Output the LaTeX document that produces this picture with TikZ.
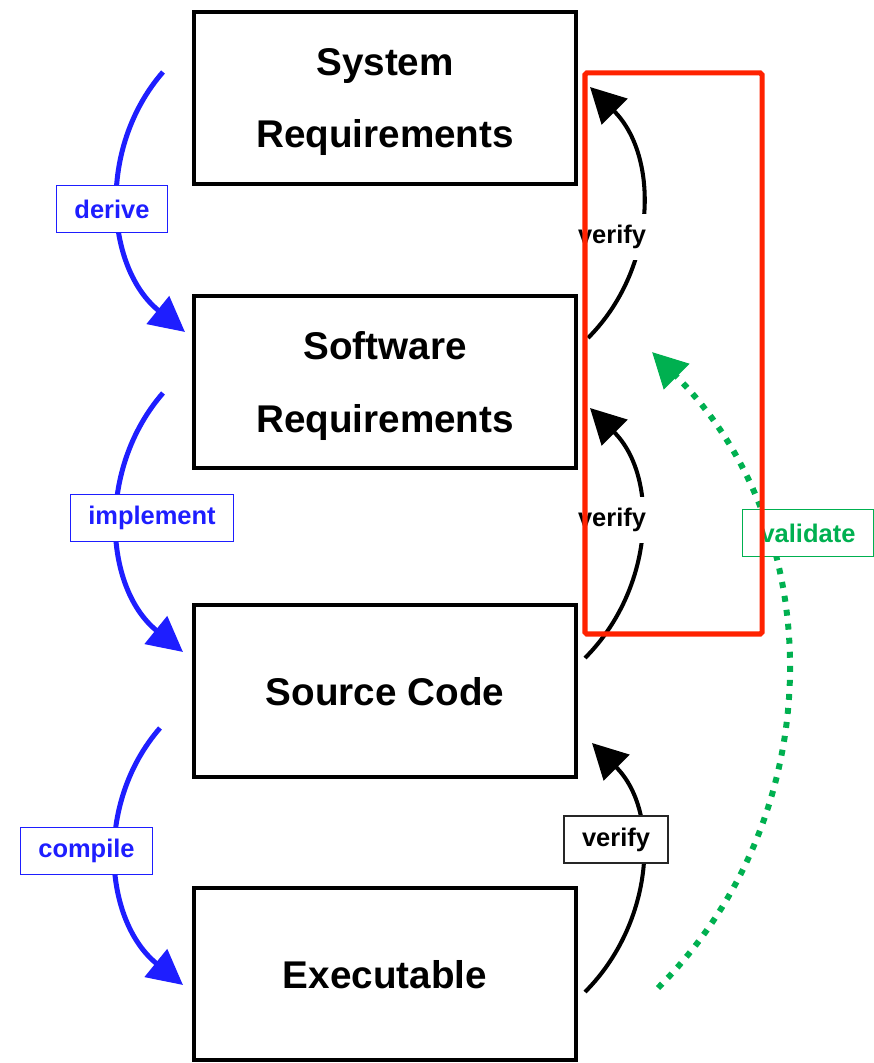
\documentclass[tikz,border=0pt]{standalone}
\usepackage{fontspec}
\setmainfont{Liberation Sans}
\usetikzlibrary{arrows.meta}

\definecolor{flowblue}{RGB}{30,30,255}
\definecolor{valgreen}{RGB}{0,176,80}
\definecolor{markred}{RGB}{255,34,0}

\begin{document}
\begin{tikzpicture}[x=0.02cm,y=0.02cm,
  stage/.style={draw,line width=2.5pt,minimum width=7.64cm,minimum height=3.44cm,
    align=center,text depth=0pt,font=\bfseries\fontsize{22}{41.5}\selectfont},
  tag/.style={fill=white,minimum height=0.94cm,inner xsep=0.36cm,
    font=\bfseries\fontsize{14.5}{17}\selectfont},
  bluetag/.style={tag,draw=flowblue,line width=0.9pt,text=flowblue},
  flow/.style={flowblue,line width=2.85pt,-{Triangle[length=0.7cm,width=0.7cm]}},
  check/.style={black,line width=2.3pt,-{Triangle[length=0.7cm,width=0.72cm]}},
  valid/.style={valgreen,line width=3.4pt,dash pattern=on 3.4pt off 4.6pt,
    -{Triangle[length=0.7cm,width=0.7cm]}}]
  \useasboundingbox (0,0) rectangle (874,1063);

  \node[stage] (sys) at (385,965) {System\\Requirements};
  \node[stage] (soft) at (385,681) {Software\\Requirements};
  \node[stage] (src) at (385,372) {Source Code};
  \node[stage] (exe) at (385,89) {Executable};

  \coordinate (derA) at (163,991);
  \coordinate (derB) at (185,731);
  \coordinate (impA) at (163,670);
  \coordinate (impB) at (183,411);
  \coordinate (comA) at (160,335);
  \coordinate (comB) at (183,78);
  \draw[flow] (derA) to[out=-131,in=141] (derB);
  \draw[flow] (impA) to[out=-131,in=141] (impB);
  \draw[flow] (comA) to[out=-131,in=141] (comB);

  \coordinate (verA) at (588,725);
  \coordinate (verB) at (590,976);
  \coordinate (verC) at (585,405);
  \coordinate (verD) at (590,655);
  \coordinate (verE) at (585,71);
  \coordinate (verF) at (592,320);
  \draw[check] (verA) to[out=45,in=-45] (verB);
  \draw[check] (verC) to[out=45,in=-45] (verD);
  \draw[check] (verE) to[out=45,in=-45] (verF);

  \coordinate (valA) at (658,75);
  \coordinate (valB) at (652,711);
  \draw[valid] (valA) to[out=45,in=-45] (valB);

  \node[bluetag] (derive) at (112,854) {derive};
  \node[bluetag] (implement) at (152,545) {implement};
  \node[bluetag] (compile) at (86.5,212) {compile};
  \node[tag] (verify1) at (612,826) {verify};
  \node[tag] (verify2) at (612,543) {verify};
  \node[tag,draw=black!85,line width=0.9pt] (verify3) at (616,223.5) {verify};
  \node[tag,draw=valgreen,line width=0.9pt,text=valgreen] (validate) at (808,530) {validate};

  \draw[markred,line width=2.85pt,rounded corners=1pt] (585,429) rectangle (762,990);
\end{tikzpicture}
\end{document}
